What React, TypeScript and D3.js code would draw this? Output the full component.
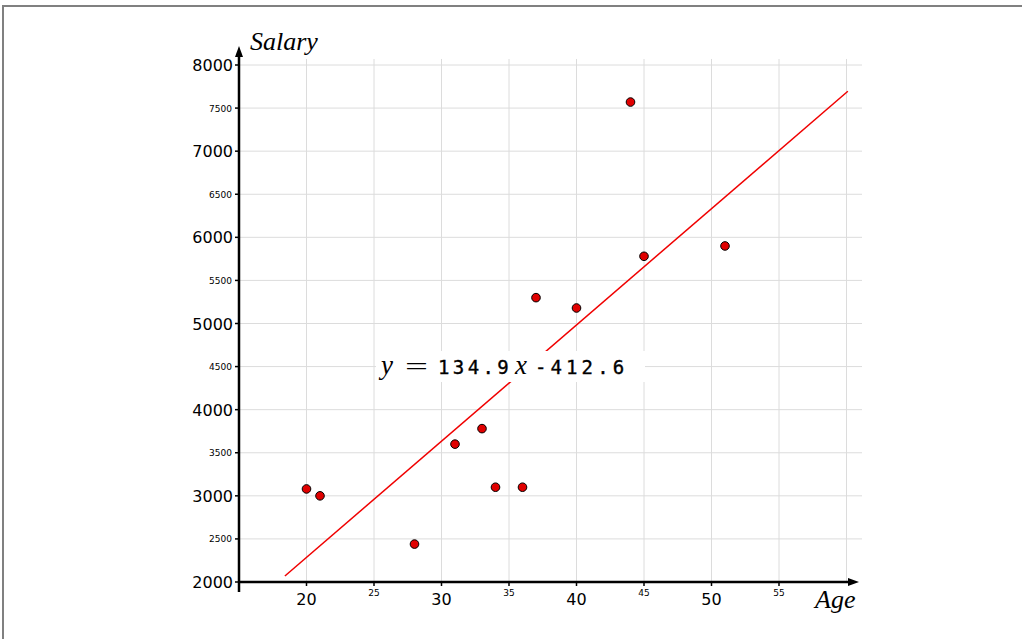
import React from "react";
import * as d3 from "d3";

const ages = [20, 21, 28, 31, 33, 34, 36, 37, 40, 44, 45, 51];
const salaries = [3080, 3000, 2440, 3600, 3780, 3100, 3100, 5300, 5180, 7570, 5780, 5900];
const slope = 134.9;
const intercept = -412.6;
const lineRange = [18.4, 60.1];
const xMajorTicks = [20, 30, 40, 50];
const xMinorTicks = [25, 35, 45, 55];
const yMajorTicks = [2000, 3000, 4000, 5000, 6000, 7000, 8000];
const yMinorTicks = [2500, 3500, 4500, 5500, 6500, 7500];
const xGrid = [20, 25, 30, 35, 40, 45, 50, 55, 60];
const yGrid = [2500, 3000, 3500, 4000, 4500, 5000, 5500, 6000, 6500, 7000, 7500, 8000];

export default function App() {
  const x = d3.scaleLinear().domain([15, 60]).range([239, 846.5]);
  const y = d3.scaleLinear().domain([2000, 8000]).range([582, 65]);
  const axisX0 = x(15);
  const axisY0 = y(2000);
  const tickFont = "'DejaVu Sans', sans-serif";
  const line = d3
    .line<number>()
    .x((d) => x(d))
    .y((d) => y(slope * d + intercept));

  return (
    <svg
      width={1022}
      height={639}
      style={{ position: "absolute", left: 0, top: 0, background: "#fff" }}
    >
      <path d="M3,639 V6 H1022" fill="none" stroke="#808080" strokeWidth={2} />
      {/* grid */}
      {xGrid.map((v) => (
        <line key={"gx" + v} x1={x(v)} x2={x(v)} y1={axisY0} y2={y(8070)} stroke="#dcdcdc" strokeWidth={1} />
      ))}
      {yGrid.map((v) => (
        <line key={"gy" + v} x1={axisX0} x2={862} y1={y(v)} y2={y(v)} stroke="#dcdcdc" strokeWidth={1} />
      ))}
      {/* regression line */}
      <path d={line(lineRange) || ""} fill="none" stroke="#f00000" strokeWidth={1.5} />
      {/* equation box */}
      <rect x={376} y={351} width={269} height={31} fill="#fff" />
      <text x={381} y={374} fontFamily="'Liberation Serif', serif" fontStyle="italic" fontSize={27}>y</text>
      <text x={405} y={374} fontFamily="'Liberation Serif', serif" fontSize={24} textLength={23} lengthAdjust="spacingAndGlyphs">=</text>
      <text x={438} y={373.5} fontFamily="'DejaVu Sans Mono', monospace" fontWeight={500} fontSize={19} letterSpacing={3.4} stroke="#000" strokeWidth={0.35}>134.9</text>
      <text x={515} y={374} fontFamily="'Liberation Serif', serif" fontStyle="italic" fontSize={27}>x</text>
      <text x={535} y={373.5} fontFamily="'DejaVu Sans Mono', monospace" fontWeight={500} fontSize={19} letterSpacing={4.1} stroke="#000" strokeWidth={0.35}>-412.6</text>
      {/* axes */}
      <line x1={axisX0} x2={852} y1={axisY0} y2={axisY0} stroke="#000" strokeWidth={2.5} />
      <line x1={axisX0} x2={axisX0} y1={axisY0 + 10} y2={55} stroke="#000" strokeWidth={2.5} />
      <path d={`M${axisX0},46 L${axisX0 - 4},57 L${axisX0 + 4},57 Z`} fill="#000" />
      <path d={`M859,${axisY0} L848,${axisY0 - 4} L848,${axisY0 + 4} Z`} fill="#000" />
      {/* y ticks */}
      {[...yMajorTicks, ...yMinorTicks].map((v) => (
        <line key={"ty" + v} x1={axisX0 - 4} x2={axisX0} y1={y(v)} y2={y(v)} stroke="#000" strokeWidth={1.5} />
      ))}
      {yMajorTicks.map((v) => (
        <text key={"ly" + v} x={233} y={y(v) + 6} textAnchor="end" fontFamily={tickFont} fontSize={16}>{v}</text>
      ))}
      {yMinorTicks.map((v) => (
        <text key={"lym" + v} x={232} y={y(v) + 3.5} textAnchor="end" fontFamily={tickFont} fontSize={9}>{v}</text>
      ))}
      {/* x ticks */}
      {[...xMajorTicks, ...xMinorTicks].map((v) => (
        <line key={"tx" + v} x1={x(v)} x2={x(v)} y1={axisY0} y2={axisY0 + 4} stroke="#000" strokeWidth={1.5} />
      ))}
      {xMajorTicks.map((v) => (
        <text key={"lx" + v} x={x(v)} y={605} textAnchor="middle" fontFamily={tickFont} fontSize={16}>{v}</text>
      ))}
      {xMinorTicks.map((v) => (
        <text key={"lxm" + v} x={x(v)} y={596} textAnchor="middle" fontFamily={tickFont} fontSize={9}>{v}</text>
      ))}
      {/* axis labels */}
      <text x={250} y={50} fontFamily="'Liberation Serif', serif" fontStyle="italic" fontSize={26}>Salary</text>
      <text x={815} y={608} fontFamily="'Liberation Serif', serif" fontStyle="italic" fontSize={26}>Age</text>
      {/* points */}
      {ages.map((a, i) => (
        <circle key={"p" + i} cx={x(a)} cy={y(salaries[i])} r={4.3} fill="#e00000" stroke="#000" strokeWidth={1} />
      ))}
    </svg>
  );
}
